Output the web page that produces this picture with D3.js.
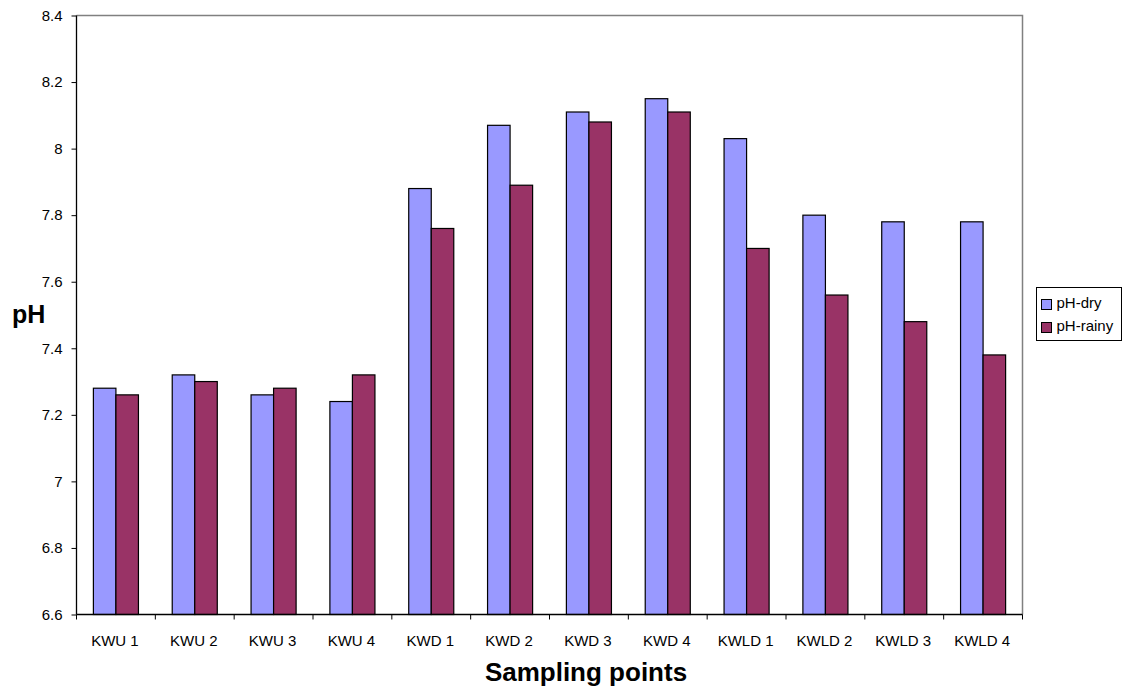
<!DOCTYPE html>
<html>
<head>
<meta charset="utf-8">
<script src="https://cdn.jsdelivr.net/npm/d3@7"></script>
<style>
  body { margin: 0; background: #fff; }
  text { font-family: "Liberation Sans", Arial, sans-serif; }
</style>
</head>
<body>
<div id="chart"></div>
<script>
// Data
var categories = ["KWU 1", "KWU 2", "KWU 3", "KWU 4", "KWD 1", "KWD 2", "KWD 3", "KWD 4",
  "KWLD 1", "KWLD 2", "KWLD 3", "KWLD 4"];
var phDry = [7.28, 7.32, 7.26, 7.24, 7.88, 8.07, 8.11, 8.15, 8.03, 7.80, 7.78, 7.78];
var phRainy = [7.26, 7.30, 7.28, 7.32, 7.76, 7.89, 8.08, 8.11, 7.70, 7.56, 7.48, 7.38];
var seriesNames = ["pH-dry", "pH-rainy"];
var yTicks = [6.6, 6.8, 7, 7.2, 7.4, 7.6, 7.8, 8, 8.2, 8.4];

var svgWidth = 1122;
var svgHeight = 688;
var margin = { top: 15.5, right: 99.5, bottom: 73.5, left: 76.5 };
var width = svgWidth - margin.left - margin.right;
var height = svgHeight - margin.top - margin.bottom;
var colors = ["#9999FF", "#993366"];

var svg = d3.select("#chart")
  .append("svg")
  .attr("width", svgWidth)
  .attr("height", svgHeight);

var chartGroup = svg.append("g")
  .attr("transform", `translate(${margin.left}, ${margin.top})`);

// Scales
var xScale = d3.scaleBand()
  .domain(categories)
  .range([0, width])
  .paddingInner(0)
  .paddingOuter(0);

var yScale = d3.scaleLinear()
  .domain([6.6, 8.4])
  .range([height, 0]);

// Bars: Excel gap width 150% -> bar width = band / 3.5
var barW = xScale.bandwidth() / 3.5;
var offset = barW * 0.75;

var rows = categories.map(function(c, i) {
  return { cat: c, values: [phDry[i], phRainy[i]] };
});

// Plot frame (grey top/right)
chartGroup.append("path")
  .attr("d", `M0,0H${width}V${height}`)
  .attr("fill", "none")
  .attr("stroke", "#808080")
  .attr("stroke-width", 1.5);

var groups = chartGroup.selectAll(".grp")
  .data(rows)
  .enter()
  .append("g")
  .attr("class", "grp")
  .attr("transform", d => `translate(${xScale(d.cat) + offset}, 0)`);

groups.selectAll("rect")
  .data(d => d.values)
  .enter()
  .append("rect")
  .attr("x", (d, i) => i * barW)
  .attr("y", d => yScale(d))
  .attr("width", barW)
  .attr("height", d => height - yScale(d))
  .attr("fill", (d, i) => colors[i])
  .attr("stroke", "#000")
  .attr("stroke-width", 1.2);

// Axes
var leftAxis = d3.axisLeft(yScale)
  .tickValues(yTicks)
  .tickSize(5)
  .tickPadding(9)
  .tickFormat(d => d3.format("~g")(d));

var yAxisG = chartGroup.append("g").call(leftAxis);
yAxisG.select(".domain").attr("stroke", "#000").attr("stroke-width", 1.3)
  .attr("d", `M0,0V${height}`);
yAxisG.selectAll("text").attr("font-size", 15).attr("fill", "#000");

var xAxisG = chartGroup.append("g")
  .attr("transform", `translate(0, ${height})`);
xAxisG.append("line")
  .attr("x1", 0).attr("x2", width)
  .attr("stroke", "#000").attr("stroke-width", 1.3);
xAxisG.selectAll(".xtick")
  .data(d3.range(categories.length + 1))
  .enter()
  .append("line")
  .attr("x1", i => i * xScale.step())
  .attr("x2", i => i * xScale.step())
  .attr("y1", 0).attr("y2", 5)
  .attr("stroke", "#000");
xAxisG.selectAll(".xlab")
  .data(categories)
  .enter()
  .append("text")
  .attr("x", d => xScale(d) + xScale.bandwidth() / 2 - 1)
  .attr("y", 31)
  .attr("text-anchor", "middle")
  .attr("font-size", 15)
  .text(d => d);

// Axis titles
svg.append("text")
  .attr("x", 12)
  .attr("y", 323)
  .attr("font-size", 25)
  .attr("font-weight", "bold")
  .text("pH");

svg.append("text")
  .attr("x", 586)
  .attr("y", 681)
  .attr("text-anchor", "middle")
  .attr("font-size", 26)
  .attr("font-weight", "bold")
  .text("Sampling points");

// Legend
var legend = svg.append("g")
  .attr("transform", "translate(1036.5, 287.5)");
legend.append("rect")
  .attr("width", 85)
  .attr("height", 53)
  .attr("fill", "#fff")
  .attr("stroke", "#000");
seriesNames.forEach(function(name, i) {
  legend.append("rect")
    .attr("x", 5)
    .attr("y", 12 + i * 23)
    .attr("width", 10)
    .attr("height", 10)
    .attr("fill", colors[i])
    .attr("stroke", "#000");
  legend.append("text")
    .attr("x", 20)
    .attr("y", 20 + i * 23.5)
    .attr("font-size", 15)
    .text(name);
});
</script>
</body>
</html>
